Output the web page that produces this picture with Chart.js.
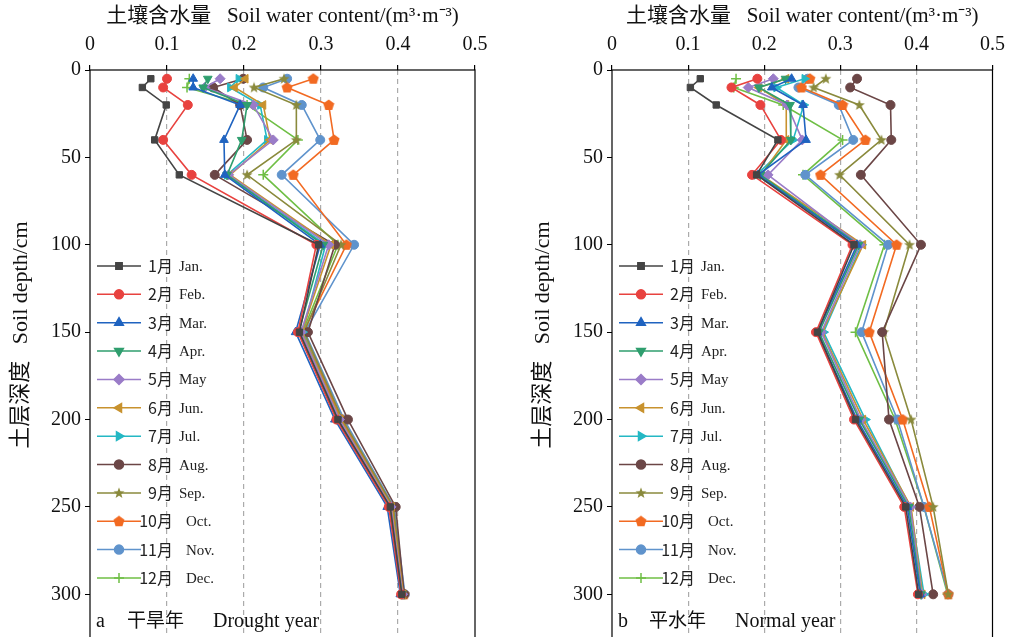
<!DOCTYPE html>
<html>
<head>
<meta charset="utf-8">
<script src="https://cdn.jsdelivr.net/npm/chart.js@4.4.1/dist/chart.umd.min.js"></script>
<style>
  body { margin: 0; background: #fff; width: 1013px; height: 637px; overflow: hidden; position: relative; }
  .box { position: absolute; top: 0; height: 637px; overflow: hidden; }
</style>
</head>
<body>
<div class="box" style="left:0;width:500px"><canvas id="chartA" width="500" height="645"></canvas></div>
<div class="box" style="left:522px;width:491px"><canvas id="chartB" width="491" height="645"></canvas></div>
<script>
// depths (cm) and axis ticks
const depths = [5, 10, 20, 40, 60, 100, 150, 200, 250, 300]
const depthTicks = [0, 50, 100, 150, 200, 250, 300]
const waterTicks = [0, 0.1, 0.2, 0.3, 0.4, 0.5]

const monthsCn = ['1月', '2月', '3月', '4月', '5月', '6月', '7月', '8月', '9月', '10月', '11月', '12月']
const monthsEn = ['Jan.', 'Feb.', 'Mar.', 'Apr.', 'May', 'Jun.', 'Jul.', 'Aug.', 'Sep.', 'Oct.', 'Nov.', 'Dec.']

// a: drought year
const droughtJan = [0.079, 0.068, 0.099, 0.084, 0.116, 0.297, 0.272, 0.322, 0.390, 0.405]
const droughtFeb = [0.100, 0.095, 0.127, 0.095, 0.132, 0.294, 0.270, 0.320, 0.388, 0.404]
const droughtMar = [0.134, 0.134, 0.195, 0.174, 0.175, 0.299, 0.267, 0.318, 0.386, 0.403]
const droughtApr = [0.153, 0.147, 0.204, 0.197, 0.178, 0.303, 0.271, 0.321, 0.389, 0.405]
const droughtMay = [0.169, 0.149, 0.212, 0.238, 0.180, 0.310, 0.274, 0.324, 0.391, 0.406]
const droughtJun = [0.202, 0.188, 0.225, 0.234, 0.182, 0.313, 0.275, 0.325, 0.392, 0.407]
const droughtJul = [0.193, 0.182, 0.221, 0.230, 0.178, 0.306, 0.276, 0.323, 0.391, 0.406]
const droughtAug = [0.199, 0.160, 0.195, 0.204, 0.162, 0.318, 0.283, 0.335, 0.397, 0.408]
const droughtSep = [0.252, 0.213, 0.268, 0.268, 0.204, 0.326, 0.278, 0.328, 0.394, 0.407]
const droughtOct = [0.290, 0.256, 0.310, 0.317, 0.264, 0.333, 0.277, 0.327, 0.393, 0.408]
const droughtNov = [0.256, 0.225, 0.275, 0.299, 0.249, 0.343, 0.279, 0.330, 0.395, 0.409]
const droughtDec = [0.129, 0.126, 0.204, 0.270, 0.225, 0.322, 0.276, 0.326, 0.393, 0.407]

// b: normal year
const normalJan = [0.116, 0.103, 0.137, 0.218, 0.190, 0.318, 0.270, 0.320, 0.386, 0.403]
const normalFeb = [0.191, 0.157, 0.195, 0.222, 0.184, 0.316, 0.268, 0.318, 0.384, 0.402]
const normalMar = [0.236, 0.210, 0.251, 0.255, 0.192, 0.322, 0.270, 0.322, 0.388, 0.405]
const normalApr = [0.228, 0.193, 0.234, 0.235, 0.195, 0.324, 0.272, 0.325, 0.390, 0.406]
const normalMay = [0.212, 0.179, 0.230, 0.250, 0.205, 0.326, 0.275, 0.327, 0.392, 0.407]
const normalJun = [0.229, 0.193, 0.229, 0.229, 0.196, 0.330, 0.276, 0.330, 0.393, 0.408]
const normalJul = [0.253, 0.216, 0.252, 0.238, 0.190, 0.328, 0.278, 0.333, 0.392, 0.410]
const normalAug = [0.322, 0.313, 0.366, 0.367, 0.327, 0.406, 0.355, 0.364, 0.404, 0.422]
const normalSep = [0.281, 0.265, 0.325, 0.354, 0.299, 0.391, 0.357, 0.393, 0.422, 0.442]
const normalOct = [0.260, 0.249, 0.303, 0.333, 0.274, 0.374, 0.338, 0.382, 0.417, 0.442]
const normalNov = [0.257, 0.245, 0.298, 0.317, 0.254, 0.363, 0.328, 0.375, 0.410, 0.442]
const normalDec = [0.163, 0.160, 0.225, 0.303, 0.251, 0.358, 0.320, 0.372, 0.410, 0.441]

const droughtSeries = [droughtJan, droughtFeb, droughtMar, droughtApr, droughtMay, droughtJun,
  droughtJul, droughtAug, droughtSep, droughtOct, droughtNov, droughtDec]
const normalSeries = [normalJan, normalFeb, normalMar, normalApr, normalMay, normalJun,
  normalJul, normalAug, normalSep, normalOct, normalNov, normalDec]

const colors = ['#444444', '#e8423f', '#1f63c0', '#2f9e6e', '#9a7cc8', '#c8922e',
  '#24b8c4', '#6b4646', '#8a8a3c', '#f26a22', '#5f93cc', '#6fbf45']

// little marker images for star and pentagon
const polyImage = (color, pts, inner) => {
  const c = document.createElement('canvas')
  c.width = 12; c.height = 12
  const g = c.getContext('2d')
  g.fillStyle = color
  g.beginPath()
  const n = inner ? pts * 2 : pts
  for (let i = 0; i < n; i++) {
    const r = inner && i % 2 ? 2.4 : 5.8
    const a = -Math.PI / 2 + i * Math.PI * 2 / n
    const x = 6 + r * Math.cos(a), y = 6.3 + r * Math.sin(a)
    i ? g.lineTo(x, y) : g.moveTo(x, y)
  }
  g.closePath()
  g.fill()
  return c
}

const styles = [
  { s: 'rect', r: 0, rad: 4.5 },
  { s: 'circle', r: 0, rad: 4.5 },
  { s: 'triangle', r: 0, rad: 5 },
  { s: 'triangle', r: 180, rad: 5 },
  { s: 'rectRot', r: 0, rad: 5 },
  { s: 'triangle', r: 270, rad: 5 },
  { s: 'triangle', r: 90, rad: 5 },
  { s: 'circle', r: 0, rad: 4.5 },
  { s: polyImage(colors[8], 5, true), r: 0, rad: 6 },
  { s: polyImage(colors[9], 5, false), r: 0, rad: 6 },
  { s: 'circle', r: 0, rad: 4.5 },
  { s: 'cross', r: 0, rad: 5 }
]

const serif = "'Liberation Serif', 'Noto Sans CJK SC', serif"
const cjk = "'Noto Sans CJK SC', sans-serif"

const decoPlugin = (tag, cnName, enName) => ({
  id: 'deco' + tag,
  afterDraw(chart) {
    const ctx = chart.ctx
    const area = chart.chartArea
    ctx.save()
    // legend
    for (let i = 0; i < 12; i++) {
      const y = 266 + i * 28.36
      const x0 = area.left + 7
      ctx.strokeStyle = colors[i]
      ctx.fillStyle = colors[i]
      ctx.lineWidth = 1.5
      ctx.beginPath()
      ctx.moveTo(x0, y)
      ctx.lineTo(x0 + 44, y)
      ctx.stroke()
      const st = styles[i]
      Chart.helpers.drawPoint(ctx, { pointStyle: st.s, rotation: st.r, radius: st.rad, borderWidth: 1.5 }, x0 + 22, y)
      ctx.fillStyle = '#222'
      ctx.textBaseline = 'alphabetic'
      ctx.font = '16px ' + cjk
      ctx.textAlign = 'right'
      ctx.fillText(monthsCn[i], area.left + 83, y + 6)
      ctx.font = '15px ' + serif
      ctx.textAlign = 'left'
      ctx.fillText(monthsEn[i], area.left + (i >= 9 ? 96 : 89), y + 5)
    }
    // caption
    ctx.fillStyle = '#111'
    ctx.textAlign = 'left'
    ctx.textBaseline = 'alphabetic'
    ctx.font = '20px ' + serif
    ctx.fillText(tag, area.left + 6, 627)
    ctx.font = '19px ' + cjk
    ctx.fillText(cnName, area.left + 37, 627)
    ctx.font = '20px ' + serif
    ctx.fillText(enName, area.left + 123, 627)
    // y axis title
    ctx.translate(21, 335)
    ctx.rotate(-Math.PI / 2)
    ctx.textAlign = 'center'
    ctx.textBaseline = 'middle'
    ctx.font = '22px ' + serif
    ctx.fillText('土层深度   Soil depth/cm', 0, 0)
    ctx.setTransform(1, 0, 0, 1, 0, 0)
    // frame
    ctx.strokeStyle = '#000'
    ctx.lineWidth = 1.2
    ctx.setLineDash([])
    ctx.strokeRect(area.left, area.top, area.right - area.left, area.bottom - area.top)
    ctx.restore()
  }
})

const makeChart = (id, series, rightPad, tag, cnName, enName) => {
  const datasets = series.map((vals, i) => ({
    label: monthsCn[i] + ' ' + monthsEn[i],
    data: depths.map((d, j) => ({ x: vals[j], y: d })),
    showLine: true,
    borderColor: colors[i],
    backgroundColor: colors[i],
    borderWidth: 1.6,
    pointStyle: styles[i].s,
    pointRotation: styles[i].r,
    pointRadius: styles[i].rad,
    pointBorderWidth: i === 11 ? 1.5 : 1
  }))
  return new Chart(document.getElementById(id), {
    type: 'scatter',
    data: { datasets },
    options: {
      responsive: false,
      animation: false,
      layout: { padding: { left: 0, right: rightPad, top: 0, bottom: 0 } },
      plugins: { legend: { display: false }, tooltip: { enabled: false } },
      scales: {
        x: {
          type: 'linear',
          position: 'top',
          min: 0,
          max: 0.5,
          afterBuildTicks: s => { s.ticks = waterTicks.map(v => ({ value: v })) },
          afterFit: s => { s.height = 70 },
          border: { display: false, dash: [5, 4] },
          grid: {
            color: c => (c.tick && (c.tick.value === 0 || c.tick.value === 0.5)) ? 'rgba(0,0,0,0)' : '#ababab',
            lineWidth: 1.2,
            tickColor: '#000',
            tickLength: 5,
            tickBorderDash: []
          },
          ticks: {
            color: '#111',
            padding: 8,
            font: { family: serif, size: 20 },
            callback: v => v === 0 ? '0' : v.toFixed(1)
          },
          title: {
            display: true,
            text: '土壤含水量   Soil water content/(m³·m⁻³)',
            color: '#111',
            padding: { top: 4, bottom: 0 },
            font: { family: serif, size: 21 }
          }
        },
        y: {
          type: 'linear',
          reverse: true,
          min: 0,
          max: 325,
          afterBuildTicks: s => { s.ticks = depthTicks.map(v => ({ value: v })) },
          afterFit: s => { s.width = 90; s.paddingTop = 0; s.paddingBottom = 0 },
          border: { display: false },
          grid: { drawOnChartArea: false, tickColor: '#000', tickLength: 5 },
          ticks: { color: '#111', padding: 4, font: { family: serif, size: 20 } }
        }
      }
    },
    plugins: [decoPlugin(tag, cnName, enName)]
  })
}

makeChart('chartA', droughtSeries, 25, 'a', '干旱年', 'Drought year')
makeChart('chartB', normalSeries, 17, 'b', '平水年', 'Normal year')
</script>
</body>
</html>
